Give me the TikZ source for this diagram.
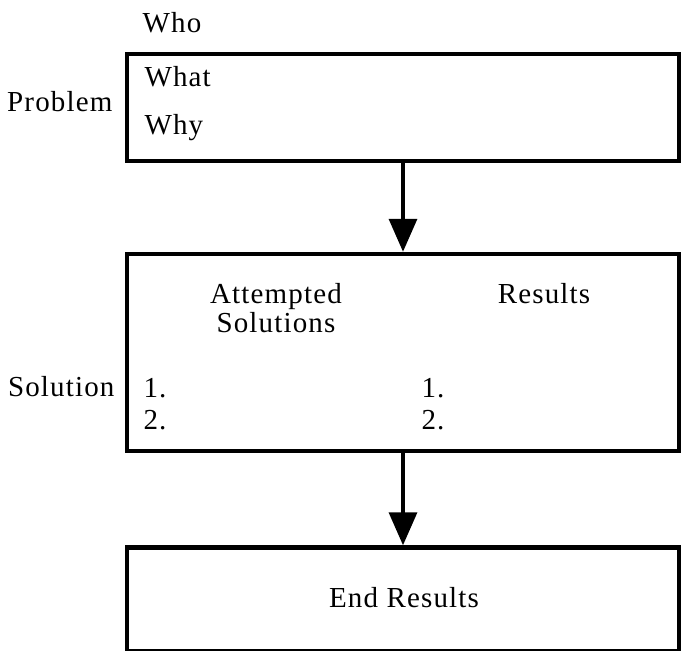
\documentclass[tikz,border=0pt]{standalone}
\usepackage{fontspec}
\setmainfont{Liberation Serif}[LetterSpace=4]
\usetikzlibrary{arrows.meta,positioning}

\tikzset{
  panel/.style={draw,line width=4.5pt,minimum width=552pt,inner sep=0pt},
  flowarrow/.style={line width=3.5pt,-{Triangle[length=33pt,width=28pt]}},
}

\begin{document}
\begin{tikzpicture}[x=1pt,y=-1pt,font=\fontsize{29}{32}\selectfont]
  \useasboundingbox[fill=white] (0,0) rectangle (682,650);

  % boxes
  \node[panel,minimum height=107pt] (problem) at (403,107.5) {};
  \node[panel,minimum height=197pt] (solution) at (403,352.5) {};
  \node[panel,minimum height=104pt] (endres) at (403,599.5) {};
  \node (endtext) at (404,598) {End Results};

  % problem box
  \node[anchor=base] (who) at (172,33) {Who};
  \node[anchor=base east] (problemlbl) at (116,111) {Problem};
  \node[anchor=base west] (what) at (141,87) {What};
  \node[anchor=base west] (why) at (141,134) {Why};

  % solution box
  \node[anchor=base,align=center] (attempted) at (276,332) {Attempted\\[-3pt]Solutions};
  \node[anchor=base] (results) at (544,303) {Results};
  \node[anchor=base east] (solutionlbl) at (118,396) {Solution};
  \node[anchor=base west] (aone) at (140,397) {1.};
  \node[anchor=base west] (atwo) at (140,429) {2.};
  \node[anchor=base west] (rone) at (418,397) {1.};
  \node[anchor=base west] (rtwo) at (418,429) {2.};

  % connectors
  \draw[flowarrow] (problem.south) -- (solution.north);
  \draw[flowarrow] (solution.south) -- (endres.north);
\end{tikzpicture}
\end{document}
